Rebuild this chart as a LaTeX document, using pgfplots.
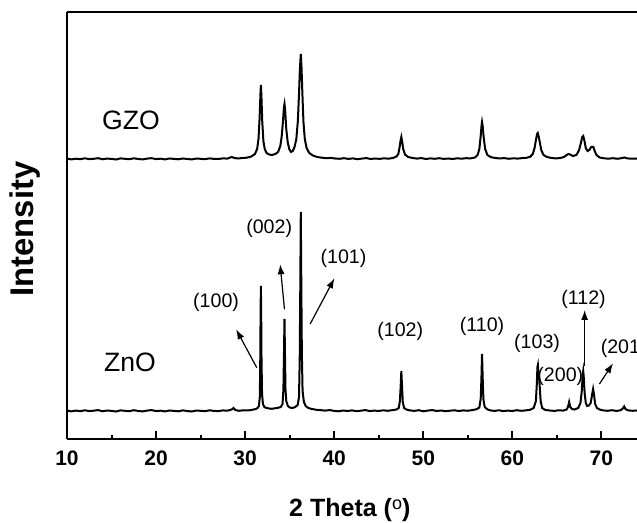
\documentclass[border=0pt]{standalone}
\usepackage{pgfplots}
\pgfplotsset{compat=1.18}
\usepackage{fontspec}
\setmainfont{Liberation Sans}
\usetikzlibrary{arrows.meta}

\begin{document}
\begin{tikzpicture}
\begin{axis}[
    scale only axis,
    width=285pt, height=213.5pt,
    xmin=10, xmax=74, ymin=0, ymax=427,
    axis x line=box, axis y line=left,
    axis line style={-, line width=1pt},
    xtick={10,20,...,70},
    minor x tick num=1,
    xtick pos=left,
    tick align=inside,
    major tick length=3.8pt, minor tick length=1.8pt,
    every tick/.style={black, line width=1pt},
    ytick=\empty,
    /pgf/number format/assume math mode=true,
    xticklabel style={font=\fontsize{10.5}{12}\selectfont\bfseries, yshift=-2.5pt},
    clip=true,
]
% ZnO
\addplot[black, line width=1pt] coordinates {
(10,28.5)(10.5,27.6)(11,28.4)(11.5,27.8)(12,28.7)(12.5,27.9)(13,28.3)(13.5,28.9)(14,27.7)(14.5,28.5)
(15,28.1)(15.5,27.5)(16,28.6)(16.5,28.2)(17,27.8)(17.5,28.8)(18,28.0)(18.5,27.6)(19,28.4)(19.5,28.9)
(20,27.9)(20.5,28.3)(21,27.6)(21.5,28.5)(22,28.1)(22.5,27.7)(23,28.6)(23.5,28.0)(24,27.5)(24.5,28.4)
(25,28.2)(25.5,27.8)(26,28.7)(26.5,28.1)(27,27.9)(27.5,28.6)(28,28.3)(28.5,29.5)(28.7,31)(28.9,29)
(29.3,28.2)(29.8,28.7)(30.3,28.5)(30.8,29.2)(31.2,30.0)(31.4,31)(31.55,33)(31.65,42)(31.70,80)(31.74,130)
(31.77,153)(31.80,130)(31.84,80)(31.9,45)(32.0,35)(32.15,32)(32.4,31)(32.7,30.5)(33.0,30.2)(33.3,30.6)
(33.7,31.2)(34.0,32)(34.2,35)(34.3,50)(34.36,85)(34.42,120)(34.47,88)(34.53,50)(34.62,38)(34.8,33)
(35.0,31.5)(35.3,31)(35.6,31.8)(35.9,34)(36.05,42)(36.13,80)(36.2,160)(36.25,227)(36.3,165)(36.37,85)
(36.45,48)(36.6,37)(36.8,33)(37.1,31)(37.5,30)(38,29.2)(38.5,28.8)(39,28.4)(39.5,28.9)(40,28.1)
(40.5,27.7)(41,28.5)(41.5,28.0)(42,28.6)(42.5,27.8)(43,28.3)(43.5,28.9)(44,27.9)(44.5,28.4)(45,28.0)
(45.5,28.7)(46,28.2)(46.5,28.8)(47.0,29.5)(47.25,31)(47.38,38)(47.46,52)(47.54,68)(47.62,52)(47.7,37)
(47.85,31)(48.1,29.5)(48.5,28.6)(49,28.1)(49.5,28.8)(50,27.7)(50.5,28.4)(51,28.9)(51.5,28.0)(52,28.5)
(52.5,27.8)(53,28.3)(53.5,28.7)(54,28.0)(54.5,28.6)(55,28.2)(55.5,28.9)(56.0,29.8)(56.3,31.5)(56.45,40)
(56.53,60)(56.6,85)(56.67,62)(56.75,40)(56.9,32)(57.2,29.6)(57.6,28.5)(58,28.1)(58.5,28.7)(59,27.9)
(59.5,28.4)(60,28.0)(60.5,28.8)(61,28.2)(61.5,28.6)(62.0,29.2)(62.4,31)(62.65,38)(62.75,55)(62.82,72)
(62.87,74)(62.93,66)(63.0,62)(63.08,52)(63.18,38)(63.35,31)(63.7,29)(64.2,28.5)(64.7,28.1)(65.2,28.7)
(65.7,28.4)(66.1,29.5)(66.25,32)(66.38,37)(66.5,32)(66.7,30)(67.0,29.5)(67.4,31)(67.65,36)(67.8,48)
(67.9,64)(67.96,68)(68.02,62)(68.12,46)(68.25,36)(68.4,33)(68.6,33.5)(68.8,36)(68.95,44)(69.07,50)
(69.18,44)(69.3,35)(69.5,31)(69.8,29.5)(70.2,28.6)(70.7,28.2)(71.2,28.8)(71.7,28.0)(72.2,28.9)(72.45,31)
(72.56,32.5)(72.7,30)(73.0,28.6)(73.5,28.2)(74,28.5)
};
% GZO
\addplot[black, line width=1pt] coordinates {
(10,280.5)(10.5,279.6)(11,280.3)(11.5,279.8)(12,280.7)(12.5,279.9)(13,280.2)(13.5,280.8)(14,279.7)(14.5,280.4)
(15,280.1)(15.5,279.5)(16,280.6)(16.5,280.2)(17,279.8)(17.5,280.7)(18,280.0)(18.5,279.6)(19,280.4)(19.5,280.8)
(20,279.9)(20.5,280.3)(21,279.6)(21.5,280.5)(22,280.1)(22.5,279.7)(23,280.5)(23.5,280.0)(24,279.6)(24.5,280.4)
(25,280.2)(25.5,279.8)(26,280.6)(26.5,280.1)(27,280.0)(27.5,280.6)(28,280.4)(28.5,282)(28.8,281)(29.2,280.5)
(29.7,281)(30.2,281.3)(30.7,282.5)(31.1,285)(31.35,290)(31.5,300)(31.62,320)(31.72,345)(31.77,354)(31.83,343)
(31.92,318)(32.05,298)(32.2,290)(32.4,286)(32.7,284.5)(33.0,284)(33.4,285)(33.7,287)(33.95,293)(34.1,302)
(34.25,318)(34.36,332)(34.42,335)(34.5,328)(34.62,310)(34.78,297)(34.95,290)(35.15,287)(35.35,288)(35.55,292)
(35.75,300)(35.92,318)(36.05,345)(36.15,370)(36.25,385)(36.33,372)(36.43,345)(36.55,317)(36.7,300)(36.9,291)
(37.2,286)(37.6,283.5)(38.1,282)(38.6,281.3)(39.1,280.8)(39.6,281.1)(40.1,280.5)(40.6,280.2)(41.1,280.8)(41.6,280.1)
(42.1,280.6)(42.6,279.8)(43.1,280.4)(43.6,280.9)(44.1,280.0)(44.6,280.5)(45.1,280.1)(45.6,280.7)(46.1,280.3)(46.6,281)
(47.0,282.5)(47.2,285)(47.35,292)(47.46,299)(47.54,302)(47.62,298)(47.75,290)(47.95,284.5)(48.3,282)(48.8,281)
(49.3,280.4)(49.8,280.9)(50.3,280.0)(50.8,280.6)(51.3,280.2)(51.8,280.8)(52.3,280.1)(52.8,280.5)(53.3,280.0)(53.8,280.7)
(54.3,280.3)(54.8,280.8)(55.3,280.6)(55.8,281.5)(56.1,284)(56.3,290)(56.45,303)(56.55,314)(56.6,317)(56.67,313)
(56.78,302)(56.95,290)(57.2,284)(57.6,281.8)(58.1,281)(58.6,280.5)(59.1,280.9)(59.6,280.2)(60.1,280.7)(60.6,280.4)
(61.1,280.9)(61.6,281.2)(62.0,282.2)(62.3,285)(62.5,291)(62.65,299)(62.78,305)(62.86,306)(62.95,303)(63.08,297)
(63.25,289)(63.5,284)(63.9,282)(64.4,281)(64.9,280.6)(65.4,281)(65.8,282)(66.1,284)(66.3,285)(66.5,284.5)
(66.8,283)(67.2,284)(67.5,289)(67.7,296)(67.85,302)(67.96,303)(68.08,299)(68.25,291)(68.45,288)(68.65,289)
(68.85,292)(69.0,292)(69.1,292)(69.25,288)(69.45,284)(69.8,281.5)(70.3,280.7)(70.8,280.3)(71.3,280.8)(71.8,280.2)
(72.3,280.9)(72.6,281.5)(72.9,280.6)(73.4,280.3)(74,280.5)
};
% sample names
\node[font=\fontsize{13.3}{15}\selectfont] at (axis cs:17.19,319) {GZO};
\node[font=\fontsize{13.3}{15}\selectfont] at (axis cs:17.08,77) {ZnO};
% reflections
\begin{scope}[every node/.style={font=\fontsize{9.8}{11}\selectfont}]
\node at (axis cs:26.74,137) {(100)};
\node at (axis cs:32.70,210.7) {(002)};
\node at (axis cs:41.04,180.7) {(101)};
\node at (axis cs:47.42,107.3) {(102)};
\node at (axis cs:56.60,113) {(110)};
\node at (axis cs:62.78,95.7) {(103)};
\node at (axis cs:65.39,63) {(200)};
\node at (axis cs:68.0,140) {(112)};
\node[anchor=west, inner sep=0pt] at (axis cs:69.89,91) {(201};
\end{scope}
\begin{scope}[line width=0.6pt, -{Latex[length=5pt,width=3.5pt]}]
\draw (axis cs:31.31,71.3) -- (axis cs:28.99,109.7);
\draw (axis cs:34.42,129.7) -- (axis cs:33.93,174.7);
\draw (axis cs:37.30,115) -- (axis cs:40.03,160.7);
\draw (axis cs:68.12,73) -- (axis cs:68.12,129);
\draw (axis cs:69.78,55) -- (axis cs:71.31,75.7);
\end{scope}
\end{axis}
% axis titles
\node[font=\fontsize{12.5}{14}\selectfont\bfseries] at (141.4pt,-35.5pt) {2 Theta (\raisebox{0.55ex}{\fontsize{9}{10}\selectfont\mdseries o})};
\node[font=\fontsize{16.4}{18}\selectfont\bfseries, rotate=90] at (-21.2pt,105pt) {Intensity};
\pgfresetboundingbox
\path[use as bounding box] (-33.5pt,-42pt) rectangle (285pt,219.5pt);
\end{tikzpicture}
\end{document}
